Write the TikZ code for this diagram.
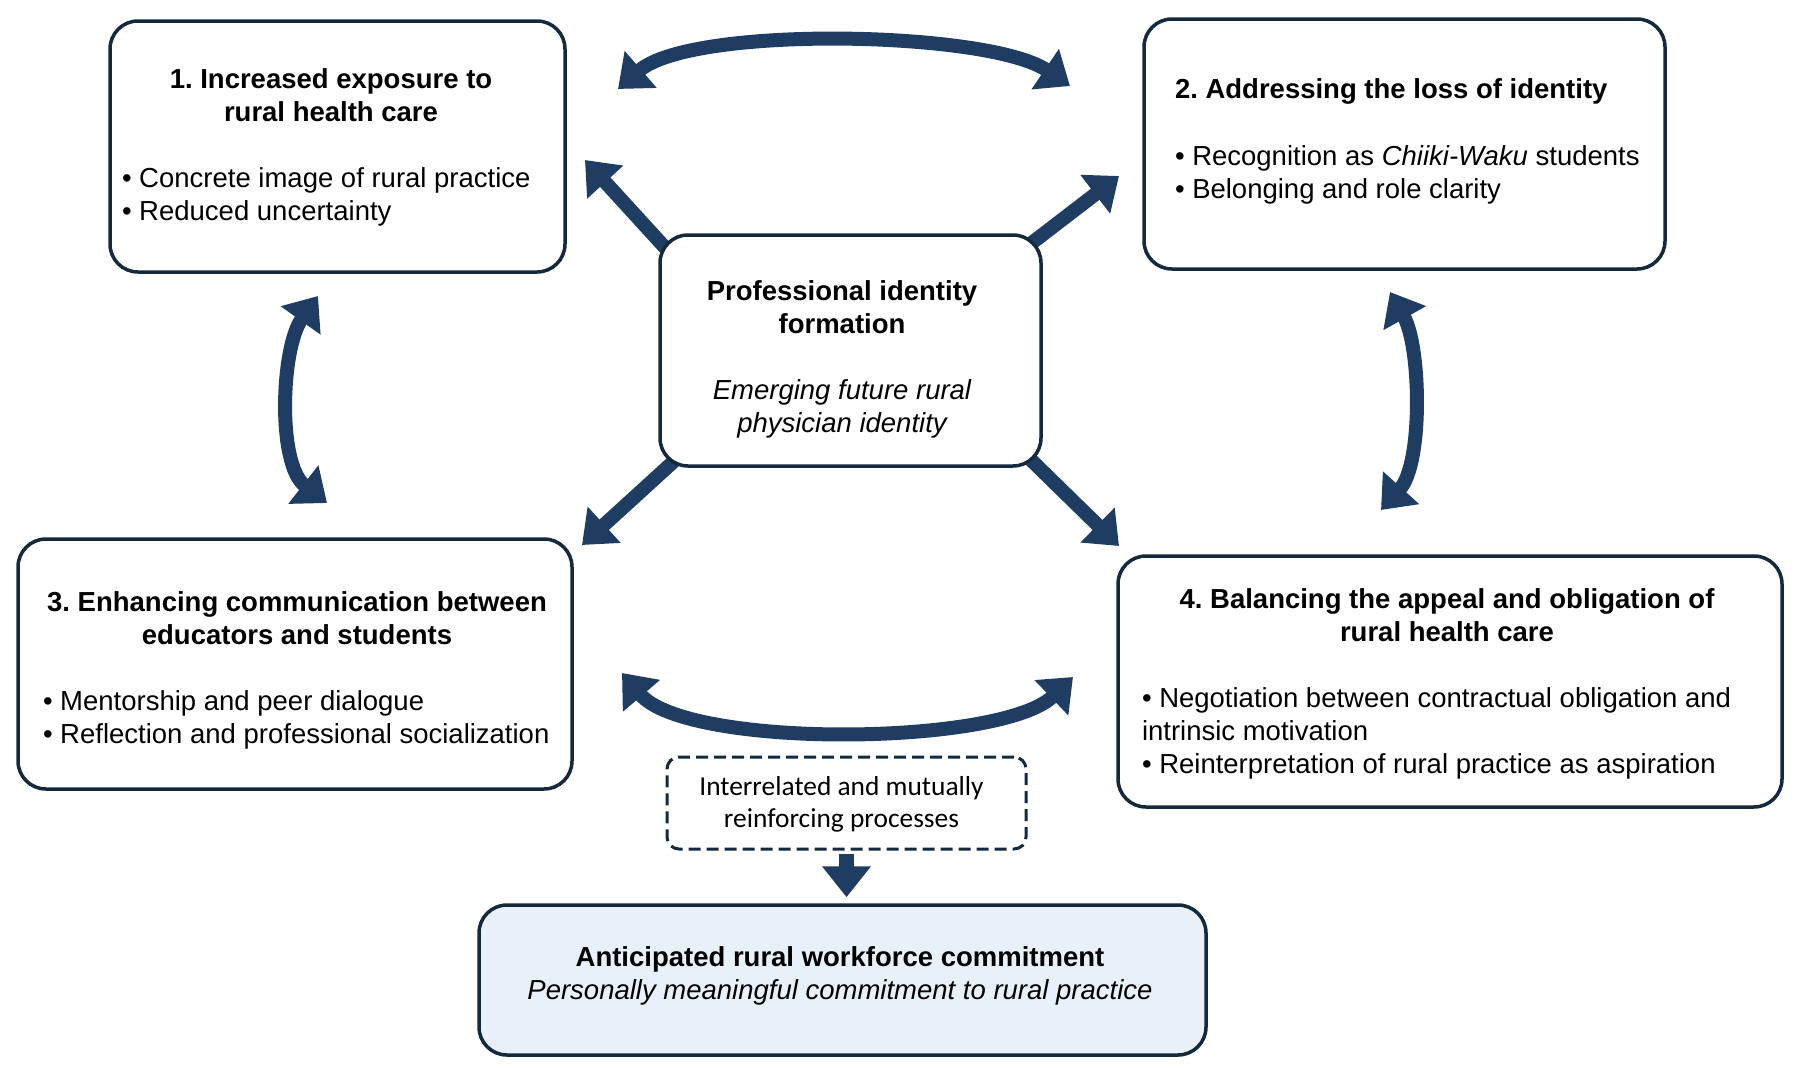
\documentclass[tikz,border=0pt]{standalone}
\usepackage{fontspec}
\setmainfont{Liberation Sans}
\newfontfamily\calib{Carlito}
\usetikzlibrary{arrows.meta,backgrounds}
\definecolor{arrowblue}{RGB}{31,61,99}
\definecolor{boxline}{RGB}{20,41,60}
\definecolor{fillblue}{RGB}{232,240,249}
\frenchspacing
\begin{document}
\begin{tikzpicture}[x=1pt,y=-1pt,
  box/.style={draw=boxline, line width=3.5pt, rounded corners=28pt, fill=white, inner sep=0pt},
  dbox/.style={draw=boxline, line width=3pt, rounded corners=12pt, fill=white, inner sep=0pt, dash pattern=on 12pt off 6pt},
  txt/.style={inner sep=0pt, outer sep=0pt, font=\fontsize{27.5}{33}\selectfont, text=black},
  ttl/.style={txt, font=\fontsize{27.5}{33}\selectfont\bfseries, align=center, anchor=base},
  itl/.style={txt, font=\fontsize{27.5}{33}\selectfont\itshape, align=center, anchor=base},
  bul/.style={txt, align=left, anchor=base west},
  tipA/.tip={Triangle[width=47pt,length=30pt]},
  bigarrow/.style={draw=arrowblue, line width=14pt, -tipA},
  dblarrow/.style={draw=arrowblue, line width=14pt, tipA-tipA},
]
\useasboundingbox (0,0) rectangle (1800,1068);

% boxes
\node[box, minimum width=455pt, minimum height=251pt] (b1) at (337.5,146.5) {};
\node[box, minimum width=521pt, minimum height=250pt] (b2) at (1404.5,144) {};
\node[box, minimum width=381pt, minimum height=231pt] (ctr) at (850.5,350.5) {};
\node[box, minimum width=554pt, minimum height=250pt] (b3) at (295,664) {};
\node[box, minimum width=664pt, minimum height=251pt] (b4) at (1450,681.5) {};
\node[dbox, minimum width=359pt, minimum height=92pt] (dbx) at (846.5,803) {};
\node[box, fill=fillblue, minimum width=727pt, minimum height=150pt] (bot) at (842.5,980) {};

% texts (anchor = baseline of the last line)
\node[ttl] (t1) at (331,121) {1. Increased exposure to\\rural health care};
\node[bul] (u1) at (122,220) {• Concrete image of rural practice\\• Reduced uncertainty};
\node[ttl, anchor=base west, align=left] (t2) at (1175,98) {2. Addressing the loss of identity};
\node[bul] (u2) at (1175,198) {• Recognition as \textit{Chiiki-Waku} students\\• Belonging and role clarity};
\node[ttl] (tc) at (842,333) {Professional identity\\formation};
\node[itl] (ic) at (842,432) {Emerging future rural\\physician identity};
\node[ttl] (t3) at (297,644) {3. Enhancing communication between\\educators and students};
\node[bul] (u3) at (43,743) {• Mentorship and peer dialogue\\• Reflection and professional socialization};
\node[ttl] (t4) at (1447,641) {4. Balancing the appeal and obligation of\\rural health care};
\node[bul] (u4) at (1142,773) {• Negotiation between contractual obligation and\\intrinsic motivation\\• Reinterpretation of rural practice as aspiration};
\node[txt, font=\calib\fontsize{27.4}{32}\selectfont, align=center, anchor=base] (td) at (841.5,827) {Interrelated and mutually\\reinforcing processes};
\node[txt, align=center, anchor=base] (tb) at (840,999) {\textbf{Anticipated rural workforce commitment}\\\textit{Personally meaningful commitment to rural practice}};

% free ends of the connectors
\coordinate (s1) at (676,259.6);   \coordinate (e1) at (585,160);
\coordinate (s2) at (1020,252);    \coordinate (e2) at (1119,176);
\coordinate (s3) at (681.8,454);   \coordinate (e3) at (582,545);
\coordinate (s4) at (1022.5,451.6);\coordinate (e4) at (1119,546);
\coordinate (ta) at (618,89);  \coordinate (tb2) at (1070,86);
\coordinate (ba) at (622,673); \coordinate (bb) at (1073,677);
\coordinate (la) at (318,296); \coordinate (lb) at (327,503);
\coordinate (ra) at (1390,292);\coordinate (rb) at (1381,510);

\begin{scope}[on background layer]
  \fill[white] (0,0) rectangle (1800,1068);
  \draw[bigarrow] (s1) -- (e1);
  \draw[bigarrow] (s2) -- (e2);
  \draw[bigarrow] (s3) -- (e3);
  \draw[bigarrow] (s4) -- (e4);
\end{scope}

% curved double arrows
\draw[dblarrow] (ta) .. controls (692,25) and (989,31) .. (tb2);
\draw[dblarrow] (ba) .. controls (687,749) and (1001,746) .. (bb);
\draw[dblarrow] (la) .. controls (281,348) and (277,464) .. (lb);
\draw[dblarrow] (ra) .. controls (1421,347) and (1423,463.5) .. (rb);

% down arrow
\draw[draw=arrowblue, line width=15pt, -{Triangle[width=47pt,length=31pt]}, shorten <=3pt, shorten >=6pt] (dbx.south) -- (bot.north -| dbx.south);
\end{tikzpicture}
\end{document}
